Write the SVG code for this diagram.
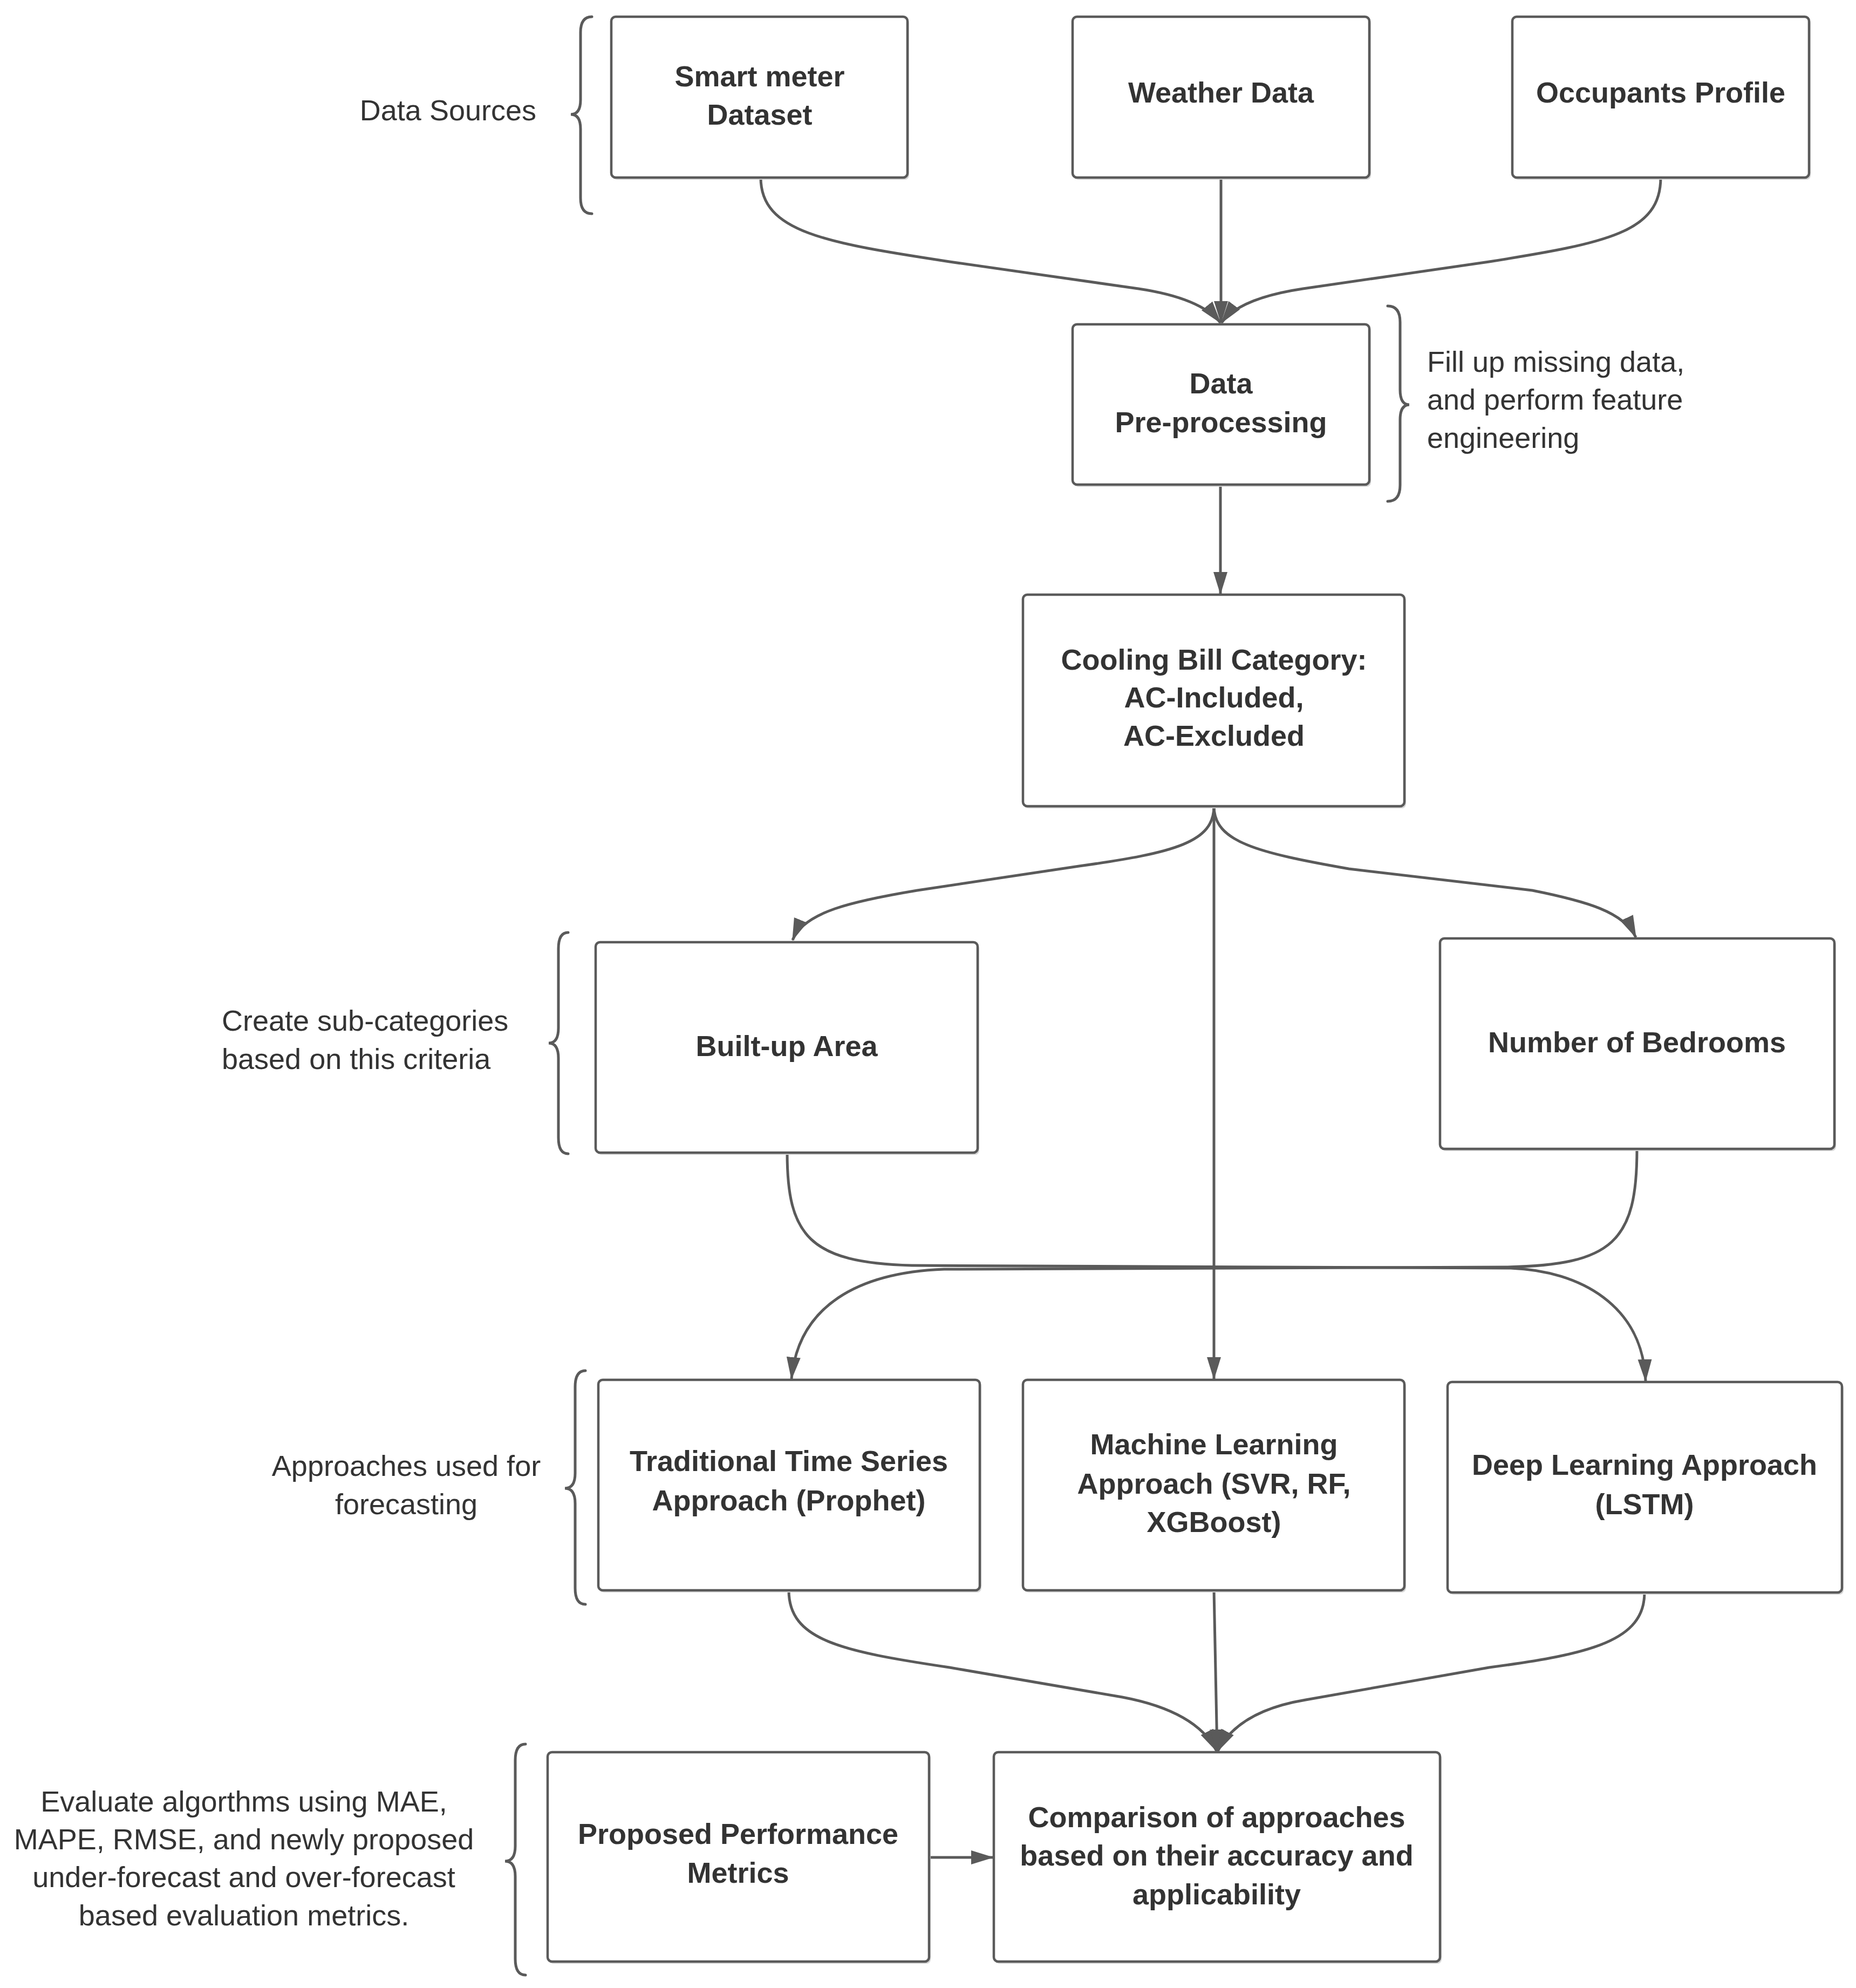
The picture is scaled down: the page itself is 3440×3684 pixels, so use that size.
<svg xmlns="http://www.w3.org/2000/svg" width="3440" height="3684" viewBox="0 0 3440 3684">
<style>
.box{fill:#ffffff;stroke:#5a5a5a;stroke-width:4.5}
.shadow{fill:#d6d6d6;stroke:none}
.lbl{font-family:"Liberation Sans",Arial,sans-serif;font-size:54px;font-weight:bold;fill:#333333;text-anchor:middle}
.ann{font-family:"Liberation Sans",Arial,sans-serif;font-size:54px;fill:#333333}
.con{fill:none;stroke:#5a5a5a;stroke-width:5}
.brace{fill:none;stroke:#5a5a5a;stroke-width:5;stroke-linecap:round}
</style>
<defs>
<marker id="arr" markerUnits="userSpaceOnUse" markerWidth="46" markerHeight="30" refX="40" refY="13" orient="auto">
<path d="M0,0 L42,13 L0,26 z" fill="#5a5a5a"/>
</marker>
</defs>
<rect width="3440" height="3684" fill="#ffffff"/>

<g id="connectors">
<path class="con" marker-end="url(#arr)" d="M1410 329 C1410 430 1530 450 1760 485 L2110 535 C2190 547 2238 568 2262 598"/>
<path class="con" marker-end="url(#arr)" d="M2263 329 L2263 598"/>
<path class="con" marker-end="url(#arr)" d="M3078 329 C3078 430 2980 450 2760 485 L2415 535 C2335 547 2286 568 2264 598"/>
<path class="con" marker-end="url(#arr)" d="M2262 898 L2262 1100"/>
<path class="con" marker-end="url(#arr)" d="M2250 1494 C2250 1560 2180 1580 2000 1605 L1700 1650 C1580 1670 1490 1690 1469 1742"/>
<path class="con" marker-end="url(#arr)" d="M2250 1494 C2250 1560 2330 1580 2500 1610 L2840 1650 C2940 1670 3010 1690 3032 1737"/>
<path class="con" marker-end="url(#arr)" d="M2250 1494 L2250 2555"/>
<path class="con" marker-end="url(#arr)" d="M1459 2136 C1459 2290 1500 2340 1690 2345 L2800 2350 C2930 2355 3045 2420 3050 2559"/>
<path class="con" marker-end="url(#arr)" d="M3034 2129 C3034 2300 2990 2345 2790 2348 L1750 2352 C1590 2358 1480 2420 1467 2555"/>
<path class="con" marker-end="url(#arr)" d="M1462 2947 C1462 3040 1560 3060 1760 3090 L2080 3145 C2170 3162 2230 3195 2255 3245"/>
<path class="con" marker-end="url(#arr)" d="M2250 2947 L2256 3245"/>
<path class="con" marker-end="url(#arr)" d="M3048 2951 C3048 3040 2950 3065 2760 3090 L2420 3150 C2330 3165 2280 3200 2257 3245"/>
<path class="con" marker-end="url(#arr)" d="M1722 3442 L1840 3442"/>
</g>

<g id="braces">
<path class="brace" d="M1097 31 Q1076 31 1076 60 L1076 185 Q1076 212 1058 212 Q1076 212 1076 239 L1076 367 Q1076 396 1097 396"/>
<path class="brace" d="M2572 567 Q2595 567 2595 597 L2595 722 Q2595 750 2612 750 Q2595 750 2595 778 L2595 899 Q2595 929 2572 929"/>
<path class="brace" d="M1053 1728 Q1035 1728 1035 1758 L1035 1905 Q1035 1933 1017 1933 Q1035 1933 1035 1961 L1035 2108 Q1035 2138 1053 2138"/>
<path class="brace" d="M1085 2540 Q1066 2540 1066 2570 L1066 2730 Q1066 2758 1047 2758 Q1066 2758 1066 2786 L1066 2943 Q1066 2973 1085 2973"/>
<path class="brace" d="M974 3232 Q955 3232 955 3262 L955 3421 Q955 3449 936 3449 Q955 3449 955 3477 L955 3630 Q955 3660 974 3660"/>
</g>

<g id="annotations">
<text class="ann" x="994" y="223" text-anchor="end">Data Sources</text>
<text class="ann" x="2645" y="689">Fill up missing data,</text>
<text class="ann" x="2645" y="759">and perform feature</text>
<text class="ann" x="2645" y="830">engineering</text>
<text class="ann" x="411" y="1910">Create sub-categories</text>
<text class="ann" x="411" y="1981">based on this criteria</text>
<text class="ann" x="753" y="2735" text-anchor="middle">Approaches used for</text>
<text class="ann" x="753" y="2806" text-anchor="middle">forecasting</text>
<text class="ann" x="452" y="3357" text-anchor="middle">Evaluate algorthms using MAE,</text>
<text class="ann" x="452" y="3427" text-anchor="middle">MAPE, RMSE, and newly proposed</text>
<text class="ann" x="452" y="3497" text-anchor="middle">under-forecast and over-forecast</text>
<text class="ann" x="452" y="3568" text-anchor="middle">based evaluation metrics.</text>
</g>

<g id="smart-meter">
<rect class="shadow" x="1136" y="35" width="549" height="298" rx="8"/>
<rect class="box" x="1133" y="31" width="549" height="298" rx="8"/>
<text class="lbl" x="1408" y="160">Smart meter</text>
<text class="lbl" x="1408" y="231">Dataset</text>
</g>
<g id="weather">
<rect class="shadow" x="1991" y="35" width="550" height="298" rx="8"/>
<rect class="box" x="1988" y="31" width="550" height="298" rx="8"/>
<text class="lbl" x="2263" y="190">Weather Data</text>
</g>
<g id="occupants">
<rect class="shadow" x="2806" y="35" width="550" height="298" rx="8"/>
<rect class="box" x="2803" y="31" width="550" height="298" rx="8"/>
<text class="lbl" x="3078" y="190">Occupants Profile</text>
</g>
<g id="preprocessing">
<rect class="shadow" x="1991" y="605" width="550" height="297" rx="8"/>
<rect class="box" x="1988" y="601" width="550" height="297" rx="8"/>
<text class="lbl" x="2263" y="729">Data</text>
<text class="lbl" x="2263" y="801">Pre-processing</text>
</g>
<g id="cooling">
<rect class="shadow" x="1899" y="1106" width="707" height="392" rx="8"/>
<rect class="box" x="1896" y="1102" width="707" height="392" rx="8"/>
<text class="lbl" x="2250" y="1241">Cooling Bill Category:</text>
<text class="lbl" x="2250" y="1311">AC-Included,</text>
<text class="lbl" x="2250" y="1382">AC-Excluded</text>
</g>
<g id="builtup">
<rect class="shadow" x="1107" y="1750" width="708" height="390" rx="8"/>
<rect class="box" x="1104" y="1746" width="708" height="390" rx="8"/>
<text class="lbl" x="1458" y="1957">Built-up Area</text>
</g>
<g id="bedrooms">
<rect class="shadow" x="2672" y="1743" width="731" height="390" rx="8"/>
<rect class="box" x="2669" y="1739" width="731" height="390" rx="8"/>
<text class="lbl" x="3034" y="1950">Number of Bedrooms</text>
</g>
<g id="traditional">
<rect class="shadow" x="1112" y="2561" width="707" height="390" rx="8"/>
<rect class="box" x="1109" y="2557" width="707" height="390" rx="8"/>
<text class="lbl" x="1462" y="2726">Traditional Time Series</text>
<text class="lbl" x="1462" y="2799">Approach (Prophet)</text>
</g>
<g id="ml">
<rect class="shadow" x="1899" y="2561" width="707" height="390" rx="8"/>
<rect class="box" x="1896" y="2557" width="707" height="390" rx="8"/>
<text class="lbl" x="2250" y="2695">Machine Learning</text>
<text class="lbl" x="2250" y="2768">Approach (SVR, RF,</text>
<text class="lbl" x="2250" y="2839">XGBoost)</text>
</g>
<g id="deep">
<rect class="shadow" x="2686" y="2565" width="731" height="390" rx="8"/>
<rect class="box" x="2683" y="2561" width="731" height="390" rx="8"/>
<text class="lbl" x="3048" y="2733">Deep Learning Approach</text>
<text class="lbl" x="3048" y="2806">(LSTM)</text>
</g>
<g id="proposed">
<rect class="shadow" x="1018" y="3251" width="707" height="388" rx="8"/>
<rect class="box" x="1015" y="3247" width="707" height="388" rx="8"/>
<text class="lbl" x="1368" y="3417">Proposed Performance</text>
<text class="lbl" x="1368" y="3489">Metrics</text>
</g>
<g id="comparison">
<rect class="shadow" x="1845" y="3251" width="827" height="388" rx="8"/>
<rect class="box" x="1842" y="3247" width="827" height="388" rx="8"/>
<text class="lbl" x="2255" y="3386">Comparison of approaches</text>
<text class="lbl" x="2255" y="3457">based on their accuracy and</text>
<text class="lbl" x="2255" y="3529">applicability</text>
</g>
</svg>
